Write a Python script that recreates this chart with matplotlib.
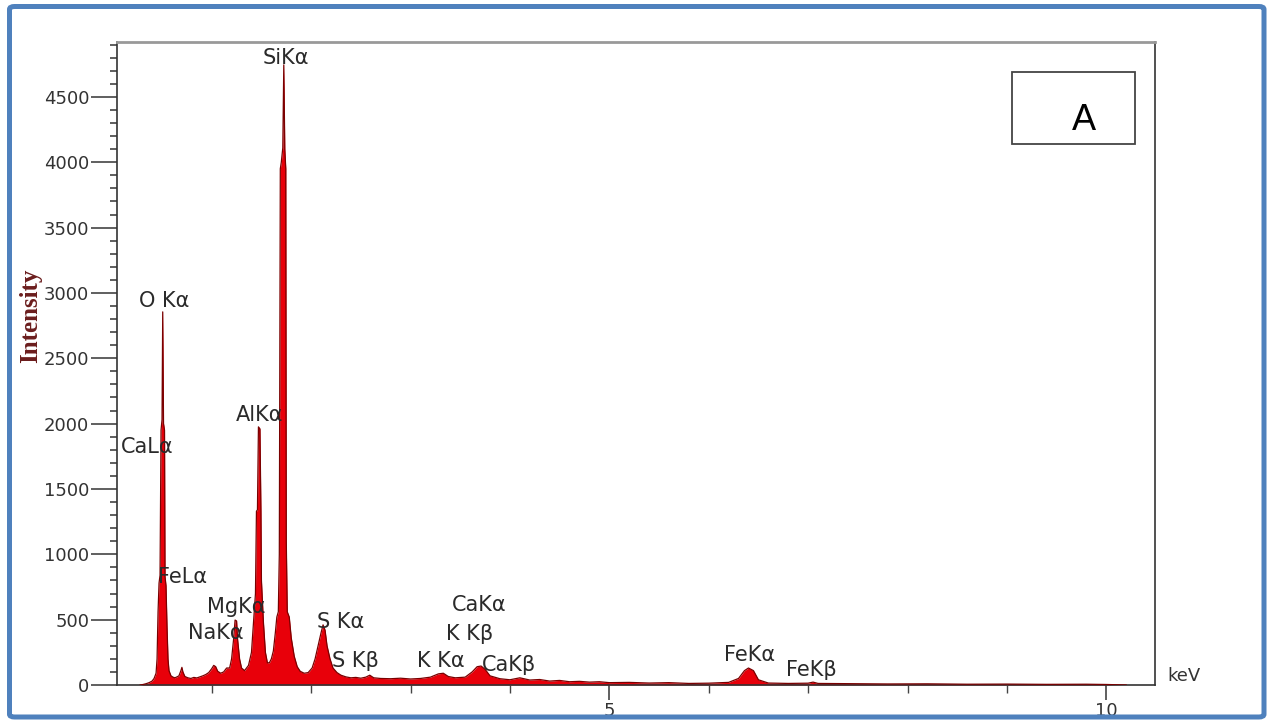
import matplotlib
matplotlib.use("Agg")
import matplotlib.pyplot as plt
from matplotlib.patches import FancyBboxPatch, Rectangle
from matplotlib.ticker import MultipleLocator

# EDS spectrum (keV, counts)
energy = [0.28, 0.31, 0.34, 0.37, 0.40, 0.42, 0.44, 0.45, 0.46, 0.47,
          0.48, 0.49, 0.50, 0.507, 0.515, 0.525, 0.53, 0.54, 0.55, 0.56,
          0.57, 0.59, 0.61, 0.63, 0.65, 0.67, 0.69, 0.70, 0.71, 0.73,
          0.76, 0.79, 0.82, 0.85, 0.88, 0.91, 0.94, 0.97, 1.00, 1.02,
          1.04, 1.06, 1.09, 1.12, 1.15, 1.18, 1.20, 1.22, 1.235, 1.25,
          1.26, 1.28, 1.30, 1.33, 1.37, 1.40, 1.42, 1.44, 1.45, 1.46,
          1.47, 1.485, 1.495, 1.50, 1.52, 1.54, 1.56, 1.58, 1.60, 1.62,
          1.64, 1.655, 1.67, 1.68, 1.69, 1.70, 1.715, 1.725, 1.735, 1.745,
          1.75, 1.76, 1.78, 1.80, 1.83, 1.86, 1.89, 1.93, 1.97, 2.01,
          2.04, 2.07, 2.10, 2.12, 2.14, 2.16, 2.19, 2.22, 2.26, 2.30,
          2.35, 2.40, 2.45, 2.50, 2.55, 2.59, 2.63, 2.70, 2.80, 2.90,
          3.00, 3.10, 3.20, 3.28, 3.33, 3.38, 3.45, 3.55, 3.62, 3.67,
          3.71, 3.75, 3.80, 3.90, 4.00, 4.10, 4.20, 4.30, 4.40, 4.50,
          4.60, 4.70, 4.80, 4.90, 5.00, 5.20, 5.40, 5.60, 5.80, 6.00,
          6.20, 6.30, 6.36, 6.40, 6.45, 6.50, 6.60, 6.80, 7.00, 7.05,
          7.10, 7.40, 7.80, 8.20, 8.60, 9.00, 9.40, 9.80, 10.0, 10.2]
counts = [0, 4, 10, 18, 30, 50, 90, 200, 560, 780,
          840, 1950, 2030, 2855, 2000, 1950, 830, 760, 450, 200,
          110, 70, 60, 55, 62, 70, 110, 135, 100, 65,
          55, 50, 58, 54, 62, 70, 80, 95, 125, 150,
          140, 105, 90, 100, 130, 130, 200, 350, 497, 490,
          350, 200, 130, 110, 150, 250, 480, 700, 1330, 1340,
          1975, 1960, 1330, 800, 480, 250, 170, 170, 200, 260,
          400, 520, 560, 1000, 3950, 4000, 4110, 4745, 4100, 3950,
          1100, 560, 520, 360, 220, 140, 105, 90, 95, 130,
          200, 300, 400, 460, 420, 300, 200, 130, 95, 75,
          62, 55, 58, 52, 60, 75, 55, 50, 48, 52,
          46, 50, 60, 85, 90, 65, 55, 60, 100, 140,
          145, 120, 70, 48, 40, 55, 38, 42, 30, 35,
          25, 28, 22, 25, 18, 20, 15, 18, 12, 14,
          20, 50, 110, 130, 110, 40, 15, 12, 14, 22,
          12, 10, 8, 9, 6, 7, 5, 6, 4, 0]

# peak labels and where they sit (keV, counts)
peak_names = ["SiK\u03b1", "O K\u03b1", "CaL\u03b1", "AlK\u03b1", "FeL\u03b1",
              "MgK\u03b1", "NaK\u03b1", "S K\u03b1", "S K\u03b2", "CaK\u03b1",
              "K K\u03b2", "K K\u03b1", "CaK\u03b2", "FeK\u03b1", "FeK\u03b2"]
label_x = [1.75, 0.52, 0.35, 1.48, 0.71, 1.25, 1.04, 2.30, 2.45, 3.69,
           3.59, 3.30, 3.99, 6.41, 7.03]
label_y = [4800, 2940, 1820, 2065, 825, 600, 395, 485, 180, 615,
           390, 180, 153, 230, 115]

fig = plt.figure(figsize=(12.69, 7.21), dpi=100)
W, H = 1269, 721

# blue frame round the whole picture
frame = FancyBboxPatch((9.5 / W, 1 - 717 / H), (1264 - 9.5) / W, (717 - 6.5) / H,
                       boxstyle="round,pad=0,rounding_size=0.004",
                       transform=fig.transFigure, facecolor="none",
                       edgecolor="#4f81bd", linewidth=3.6, zorder=10)
fig.patches.append(frame)

ax = fig.add_axes([117 / W, 1 - 685 / H, (1155 - 117) / W, (685 - 42) / H])
ax.set_facecolor("none")

ax.fill_between(energy, counts, 0, color="#e8000a", linewidth=0, zorder=2)
ax.plot(energy, counts, color="#7a0000", linewidth=0.9, zorder=3)

ax.set_xlim(0.047, 10.49)
ax.set_ylim(0, 4920)

ax.yaxis.set_major_locator(MultipleLocator(500))
ax.yaxis.set_minor_locator(MultipleLocator(100))
ax.set_yticks(range(0, 5000, 500))
ax.xaxis.set_major_locator(MultipleLocator(5))
ax.xaxis.set_minor_locator(MultipleLocator(1))

ax.tick_params(axis="y", which="major", direction="out", length=19, width=1.2,
               color="#444444", labelsize=13, labelcolor="#333333", pad=1)
ax.tick_params(axis="y", which="minor", direction="out", length=5, width=1.2,
               color="#444444")
ax.tick_params(axis="x", which="major", direction="out", length=11, width=1.2,
               color="#444444", labelsize=13, labelcolor="#333333", pad=1)
ax.tick_params(axis="x", which="minor", direction="out", length=6, width=1.0,
               color="#444444")

for side in ["left", "bottom", "right"]:
    ax.spines[side].set_color("#333333")
    ax.spines[side].set_linewidth(1.2)
ax.spines["top"].set_color("#999999")
ax.spines["top"].set_linewidth(2)

for name, lx, ly in zip(peak_names, label_x, label_y):
    ax.text(lx, ly, name, ha="center", va="center", fontsize=15,
            color="#2a2a2a", zorder=4)

fig.text(1184 / W, 1 - 676 / H, "keV", ha="center", va="center",
         fontsize=13, color="#333333")
fig.text(31 / W, 1 - 316 / H, "Intensity", rotation=90, ha="center",
         va="center", fontsize=18, fontweight="bold",
         family=["Liberation Serif", "DejaVu Serif"], color="#6b1d1d")

# panel letter box
box = Rectangle((1012 / W, 1 - 144 / H), (1135 - 1012) / W, (144 - 72) / H,
                transform=fig.transFigure, facecolor="white",
                edgecolor="#444444", linewidth=1.3, zorder=5)
fig.patches.append(box)
fig.text(1084 / W, 1 - 121 / H, "A", ha="center", va="center", fontsize=26,
         family=["Liberation Sans", "DejaVu Sans"], color="black", zorder=6)

fig.savefig("out.png", dpi=100)
